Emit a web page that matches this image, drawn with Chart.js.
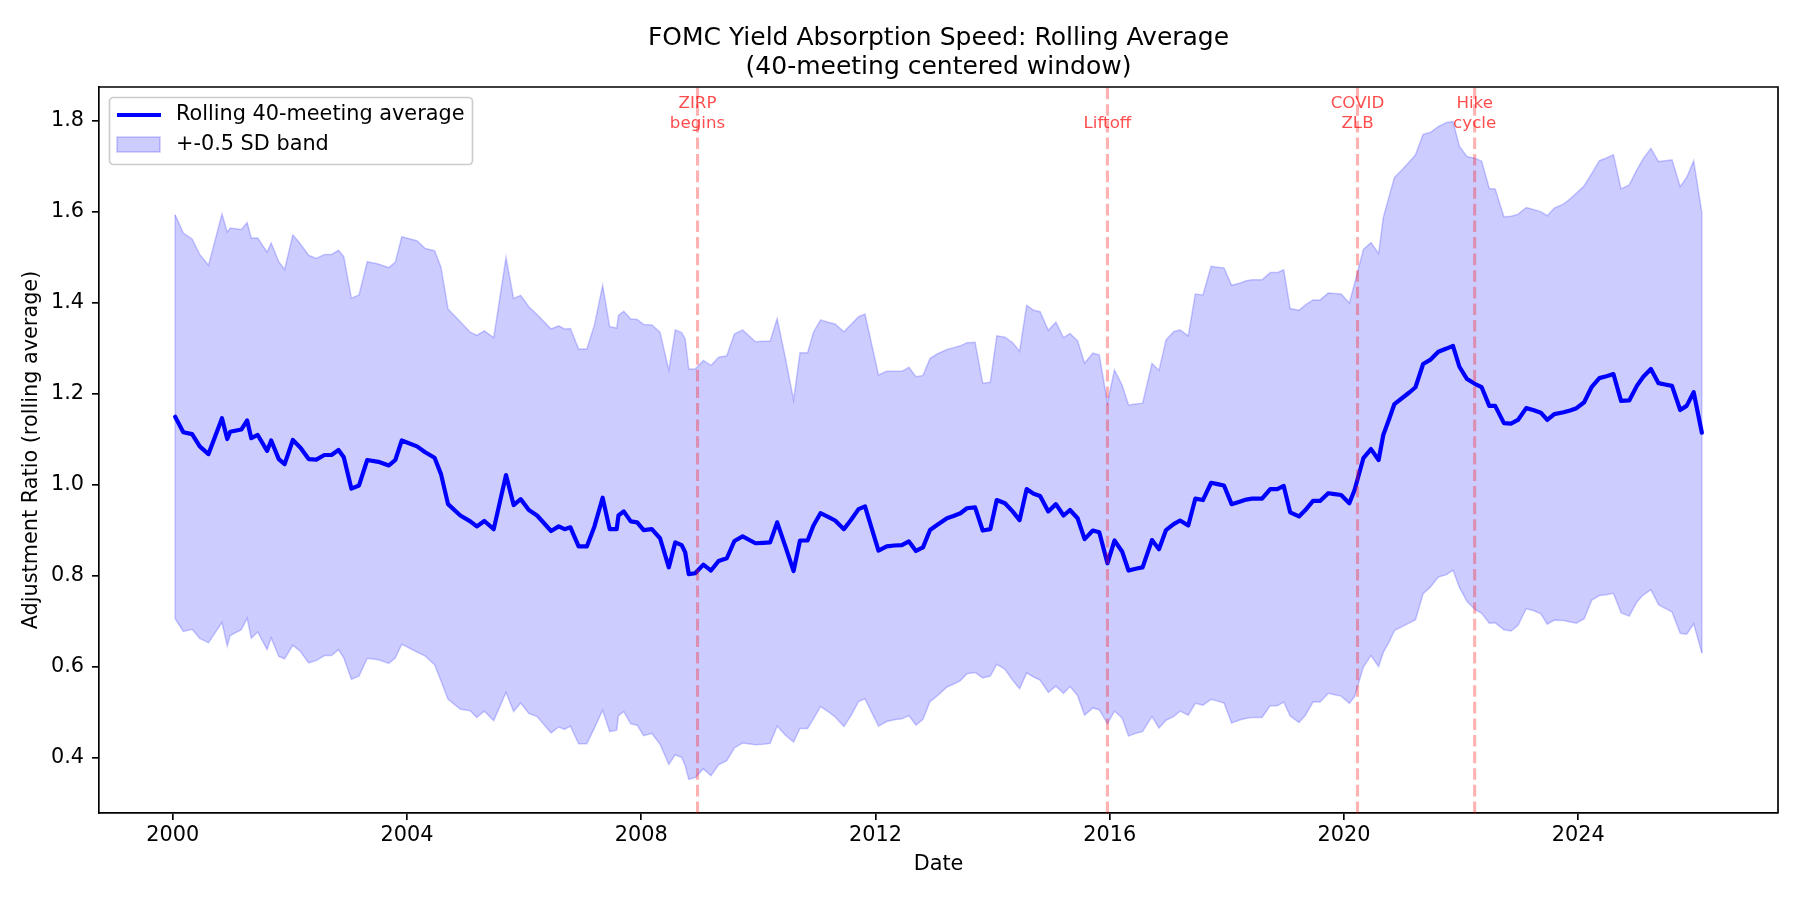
<!DOCTYPE html>
<html>
<head>
<meta charset="utf-8">
<script src="https://cdn.jsdelivr.net/npm/chart.js@4.4.1/dist/chart.umd.min.js"></script>
<style>
html,body{margin:0;padding:0;background:#ffffff;}
#wrap{width:1800px;height:900px;}
canvas{display:block;}
</style>
</head>
<body>
<div id="wrap"><canvas id="c" width="1800" height="900"></canvas></div>
<script>
// ---------------- data ----------------
const meetingDates = [
2000.04,2000.18,2000.33,2000.46,2000.61,2000.84,2000.93,2000.98,
2001.17,2001.27,2001.34,2001.45,2001.61,2001.68,2001.81,2001.91,
2002.05,2002.18,2002.32,2002.45,2002.59,2002.71,2002.83,2002.92,
2003.05,2003.18,2003.32,2003.51,2003.69,2003.80,2003.91,
2004.17,2004.31,2004.47,2004.58,2004.70,2004.91,
2005.08,2005.19,2005.32,2005.48,2005.69,2005.82,2005.94,
2006.08,2006.22,2006.46,2006.59,2006.69,2006.79,2006.93,
2007.07,2007.20,2007.34,2007.46,2007.58,2007.61,2007.70,2007.82,2007.93,
2008.04,2008.18,2008.32,2008.47,2008.58,2008.69,2008.75,2008.81,2008.92,
2009.06,2009.19,2009.32,2009.46,2009.59,2009.73,2009.95,
2010.08,2010.20,2010.32,2010.46,2010.60,2010.71,2010.84,2010.94,
2011.06,2011.19,2011.31,2011.46,2011.58,2011.71,2011.82,
2012.05,2012.19,2012.32,2012.45,2012.57,2012.69,2012.81,2012.93,
2013.05,2013.22,2013.33,2013.45,2013.56,2013.70,2013.83,2013.96,
2014.07,2014.21,2014.34,2014.46,2014.58,2014.70,2014.81,2014.95,
2015.08,2015.21,2015.32,2015.45,2015.57,2015.71,2015.82,2015.96,
2016.08,2016.21,2016.32,2016.44,2016.56,2016.72,2016.84,2016.96,
2017.09,2017.20,2017.34,2017.46,2017.59,2017.73,2017.84,2017.95,
2018.08,2018.23,2018.33,2018.43,2018.60,2018.74,2018.86,2018.97,
2019.08,2019.23,2019.34,2019.47,2019.59,2019.73,2019.84,2019.95,
2020.09,2020.18,2020.33,2020.46,2020.59,2020.67,2020.77,2020.86,
2021.01,2021.12,2021.22,2021.35,2021.47,2021.61,2021.75,2021.86,2021.97,
2022.10,2022.24,2022.35,2022.48,2022.58,2022.73,2022.85,2022.97,
2023.11,2023.23,2023.36,2023.47,2023.59,2023.75,2023.86,2023.97,
2024.10,2024.23,2024.36,2024.48,2024.60,2024.73,2024.87,
2025.00,2025.11,2025.24,2025.37,2025.48,2025.60,2025.74,2025.85,2025.97,
2026.11
];

const rollingMean = [
1.149,1.115,1.111,1.084,1.067,1.146,1.100,1.116,
1.121,1.141,1.102,1.109,1.074,1.097,1.056,1.045,
1.098,1.081,1.056,1.055,1.065,1.065,1.076,1.060,
0.991,0.998,1.054,1.050,1.042,1.054,1.097,
1.084,1.071,1.059,1.023,0.957,0.932,
0.919,0.908,0.920,0.902,1.021,0.955,0.968,
0.944,0.932,0.898,0.908,0.902,0.906,0.864,
0.864,0.908,0.971,0.902,0.902,0.932,0.941,0.919,0.917,
0.900,0.902,0.882,0.818,0.873,0.867,0.851,0.803,0.805,
0.824,0.811,0.832,0.838,0.876,0.886,0.871,
0.872,0.873,0.917,0.864,0.810,0.877,0.877,0.910,
0.937,0.929,0.921,0.902,0.922,0.946,0.952,
0.855,0.864,0.866,0.867,0.875,0.854,0.862,0.900,
0.911,0.926,0.931,0.937,0.948,0.950,0.899,0.902,
0.966,0.959,0.941,0.922,0.990,0.980,0.975,0.941,
0.957,0.932,0.944,0.926,0.880,0.899,0.895,0.827,
0.877,0.853,0.811,0.815,0.818,0.878,0.858,0.900,
0.913,0.921,0.910,0.969,0.966,1.004,1.001,0.998,
0.957,0.963,0.967,0.969,0.969,0.990,0.990,0.997,
0.939,0.930,0.944,0.964,0.964,0.981,0.979,0.977,
0.959,0.988,1.058,1.078,1.054,1.109,1.144,1.177,
1.192,1.203,1.214,1.265,1.274,1.292,1.299,1.305,1.259,
1.232,1.221,1.214,1.173,1.173,1.135,1.134,1.142,
1.168,1.164,1.158,1.142,1.155,1.159,1.163,1.168,
1.181,1.215,1.234,1.238,1.243,1.184,1.185,
1.217,1.237,1.254,1.223,1.220,1.217,1.164,1.173,1.203,
1.114
];

// half of one standard deviation (band = mean +- halfSd)
const halfSd = [
0.444,0.438,0.429,0.422,0.415,0.449,0.455,0.448,
0.440,0.435,0.440,0.433,0.437,0.434,0.434,0.428,
0.451,0.448,0.448,0.442,0.441,0.441,0.439,0.441,
0.419,0.419,0.436,0.435,0.435,0.435,0.448,
0.452,0.448,0.455,0.455,0.429,0.426,
0.416,0.420,0.418,0.421,0.478,0.454,0.448,
0.447,0.442,0.444,0.441,0.440,0.437,0.434,
0.434,0.443,0.467,0.445,0.442,0.440,0.440,0.445,0.446,
0.452,0.449,0.453,0.433,0.467,0.467,0.469,0.451,0.449,
0.449,0.451,0.448,0.445,0.455,0.454,0.443,
0.443,0.442,0.448,0.415,0.376,0.413,0.413,0.425,
0.425,0.428,0.432,0.434,0.430,0.423,0.423,
0.386,0.385,0.383,0.382,0.383,0.383,0.378,0.377,
0.376,0.371,0.370,0.368,0.364,0.363,0.324,0.323,
0.361,0.365,0.371,0.371,0.404,0.403,0.405,0.398,
0.400,0.391,0.388,0.390,0.387,0.390,0.390,0.353,
0.375,0.366,0.364,0.362,0.361,0.388,0.393,0.418,
0.423,0.419,0.417,0.450,0.451,0.476,0.477,0.478,
0.481,0.480,0.481,0.481,0.481,0.476,0.476,0.475,
0.448,0.453,0.451,0.442,0.442,0.440,0.441,0.442,
0.440,0.454,0.459,0.454,0.454,0.478,0.490,0.498,
0.503,0.507,0.511,0.505,0.500,0.495,0.497,0.493,0.485,
0.489,0.496,0.497,0.478,0.477,0.454,0.456,0.452,
0.441,0.441,0.442,0.449,0.453,0.458,0.465,0.473,
0.476,0.469,0.478,0.480,0.482,0.466,0.474,
0.475,0.480,0.485,0.487,0.492,0.497,0.491,0.502,0.509,
0.484
];

const xTickYears = [2000, 2004, 2008, 2012, 2016, 2020, 2024];
const xTickLabels = ['2000', '2004', '2008', '2012', '2016', '2020', '2024'];
const yTickValues = [0.4, 0.6, 0.8, 1.0, 1.2, 1.4, 1.6, 1.8];
const yTickLabels = ['0.4', '0.6', '0.8', '1.0', '1.2', '1.4', '1.6', '1.8'];

const eventDates = [2008.96, 2015.96, 2020.23, 2022.23];
const eventLabels = [['ZIRP', 'begins'], ['Liftoff'], ['COVID', 'ZLB'], ['Hike', 'cycle']];

const seriesLabels = ['Rolling 40-meeting average', '+-0.5 SD band'];
const chartTitle = ['FOMC Yield Absorption Speed: Rolling Average', '(40-meeting centered window)'];
const xAxisTitle = 'Date';
const yAxisTitle = 'Adjustment Ratio (rolling average)';

// ---------------- build datasets ----------------
const FONT = 'DejaVu Sans';
const bandColor = 'rgba(0,0,255,0.2)';
const meanPts = meetingDates.map((d, i) => ({x: d, y: rollingMean[i]}));
const upperPts = meetingDates.map((d, i) => ({x: d, y: rollingMean[i] + halfSd[i]}));
const lowerPts = meetingDates.map((d, i) => ({x: d, y: rollingMean[i] - halfSd[i]}));
const last = meetingDates.length - 1;

const decorPlugin = {
  id: 'decor',
  afterDatasetsDraw(chart) {
    const {ctx, chartArea: a, scales: {x}} = chart;
    ctx.save();
    // event lines
    ctx.strokeStyle = 'rgba(255,0,0,0.3)';
    ctx.lineWidth = 3.1;
    ctx.setLineDash([11.6, 5.0]);
    eventDates.forEach(d => {
      const px = x.getPixelForValue(d);
      ctx.beginPath();
      ctx.moveTo(px, a.bottom);
      ctx.lineTo(px, a.top);
      ctx.stroke();
    });
    ctx.setLineDash([]);
    // top & right spines
    ctx.strokeStyle = '#000';
    ctx.lineWidth = 1.67;
    ctx.beginPath();
    ctx.moveTo(a.left, a.top);
    ctx.lineTo(a.right, a.top);
    ctx.lineTo(a.right, a.bottom);
    ctx.stroke();
    // event labels
    ctx.fillStyle = 'rgba(255,0,0,0.7)';
    ctx.font = '16.7px "' + FONT + '"';
    ctx.textAlign = 'center';
    ctx.textBaseline = 'middle';
    eventDates.forEach((d, k) => {
      const px = x.getPixelForValue(d);
      const lines = eventLabels[k];
      lines.forEach((t, i) => {
        ctx.fillText(t, px, 123.5 - (lines.length - 1 - i) * 20);
      });
    });
    // legend
    const bx = 109.5, by = 97.5, bw = 363, bh = 67;
    ctx.beginPath();
    if (ctx.roundRect) ctx.roundRect(bx, by, bw, bh, 4); else ctx.rect(bx, by, bw, bh);
    ctx.fillStyle = 'rgba(255,255,255,0.8)';
    ctx.fill();
    ctx.strokeStyle = '#cccccc';
    ctx.lineWidth = 1.67;
    ctx.stroke();
    ctx.strokeStyle = '#0000ff';
    ctx.lineWidth = 4.2;
    ctx.beginPath();
    ctx.moveTo(117, 115);
    ctx.lineTo(161, 115);
    ctx.stroke();
    ctx.fillStyle = bandColor;
    ctx.fillRect(117, 137, 43, 15);
    ctx.strokeStyle = bandColor;
    ctx.lineWidth = 1.5;
    ctx.strokeRect(117, 137, 43, 15);
    ctx.fillStyle = '#000';
    ctx.font = '20.8px "' + FONT + '"';
    ctx.textAlign = 'left';
    ctx.textBaseline = 'middle';
    ctx.fillText(chart.data.datasets[0].label, 176, 115);
    ctx.fillText(chart.data.datasets[1].label, 176, 145);
    ctx.restore();
  }
};

const tickFont = {family: FONT, size: 20.8};
const axisTitleFont = {family: FONT, size: 20.8, lineHeight: 1.2};

new Chart(document.getElementById('c'), {
  type: 'line',
  data: {
    datasets: [
      {label: seriesLabels[0], data: meanPts, borderColor: '#0000ff', borderWidth: 4.2,
       pointRadius: 0, fill: false, tension: 0, borderJoinStyle: 'round', borderCapStyle: 'round'},
      {label: seriesLabels[1], data: upperPts, borderColor: bandColor, borderWidth: 1.5,
       backgroundColor: bandColor, fill: 2, pointRadius: 0, tension: 0},
      {label: 'lower', data: lowerPts, borderColor: bandColor, borderWidth: 1.5,
       pointRadius: 0, fill: false, tension: 0},
      {label: 'edgeL', data: [upperPts[0], lowerPts[0]], borderColor: bandColor, borderWidth: 1.5,
       pointRadius: 0, fill: false},
      {label: 'edgeR', data: [upperPts[last], lowerPts[last]], borderColor: bandColor, borderWidth: 1.5,
       pointRadius: 0, fill: false}
    ]
  },
  options: {
    responsive: false,
    devicePixelRatio: 1,
    animation: false,
    layout: {padding: {left: 0, right: 22, top: 0, bottom: 0}},
    plugins: {
      legend: {display: false},
      tooltip: {enabled: false},
      title: {
        display: true, text: chartTitle, color: '#000', fullSize: false,
        font: {family: FONT, size: 25, weight: 'normal', lineHeight: 1.16},
        padding: {top: 23.5, bottom: 5.5}
      }
    },
    scales: {
      x: {
        type: 'linear', min: 1998.74, max: 2027.41,
        afterFit: s => { s.height = 87; },
        afterBuildTicks: s => { s.ticks = xTickYears.map(v => ({value: v})); },
        ticks: {
          autoSkip: false, maxRotation: 0, color: '#000', font: tickFont, padding: 3,
          callback: v => { const i = xTickYears.indexOf(v); return i >= 0 ? xTickLabels[i] : ''; }
        },
        grid: {display: true, drawOnChartArea: false, drawTicks: true, tickLength: 7, color: '#000', lineWidth: 1.67},
        border: {display: true, color: '#000', width: 1.67},
        title: {display: true, text: xAxisTitle, color: '#000', font: axisTitleFont, padding: {top: 0, bottom: 22.5}}
      },
      y: {
        type: 'linear', min: 0.278, max: 1.874,
        afterFit: s => { s.width = 99; },
        afterBuildTicks: s => { s.ticks = yTickValues.map(v => ({value: v})); },
        ticks: {
          autoSkip: false, color: '#000', font: tickFont, padding: 8,
          callback: v => { const i = yTickValues.findIndex(t => Math.abs(t - v) < 1e-9); return i >= 0 ? yTickLabels[i] : ''; }
        },
        grid: {display: true, drawOnChartArea: false, drawTicks: true, tickLength: 7, color: '#000', lineWidth: 1.67},
        border: {display: true, color: '#000', width: 1.67},
        title: {display: true, text: yAxisTitle, color: '#000', font: axisTitleFont, padding: {top: 19, bottom: 0}}
      }
    }
  },
  plugins: [decorPlugin]
});
</script>
</body>
</html>
